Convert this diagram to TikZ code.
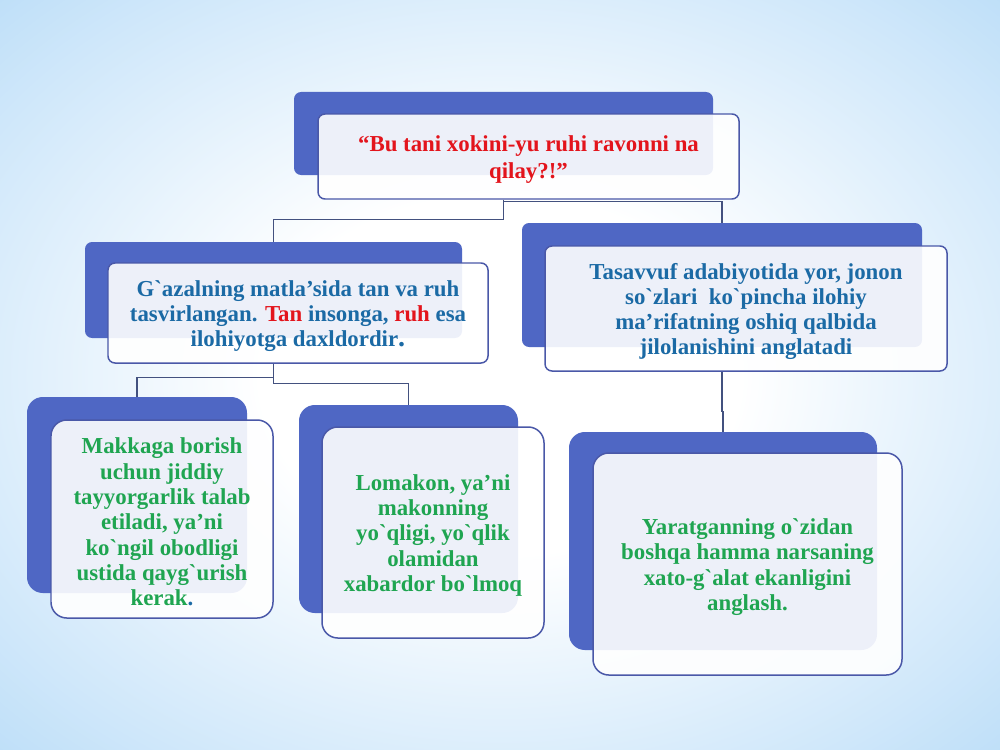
\documentclass[tikz,border=0pt]{standalone}
\usepackage{fontspec}
\newfontfamily\uzfont{Liberation Serif}
\usetikzlibrary{fit, positioning}
\definecolor{backblue}{HTML}{4F67C4}
\definecolor{edgeblue}{HTML}{4A58A8}
\definecolor{linkgray}{HTML}{43517F}
\definecolor{redtxt}{HTML}{E3141C}
\definecolor{bluetxt}{HTML}{1B6AA5}
\definecolor{greentxt}{HTML}{1FA551}
\definecolor{bgblue}{HTML}{8CC6F3}
\pgfdeclareradialshading{slidebg}{\pgfpoint{0bp}{0bp}}{color(0bp)=(white); color(12bp)=(white); color(30bp)=(bgblue!42); color(45bp)=(bgblue!80); color(62bp)=(bgblue); color(72bp)=(bgblue)}
\tikzset{%
  backbox/.style={draw=none, fill=backblue, rounded corners=4pt, inner sep=0pt},
  frontbox/.style={draw=edgeblue, line width=0.85pt, fill=white, fill opacity=0.9,
    rounded corners=4pt, inner sep=0pt},
  boxtext/.style={align=center, inner sep=0pt, yshift=-1.7pt, font=\uzfont\bfseries\fontsize{13}{14.4}\selectfont},
  big/.style={rounded corners=9pt},
  link/.style={draw=linkgray, line width=0.85pt}
}
\begin{document}
\begin{tikzpicture}[x=0.02cm, y=-0.02cm]

\useasboundingbox (0,0) rectangle (1000,750);
\shade[shading=slidebg] (0,0) rectangle (1000,750);

\node[backbox, fit={(294,92) (713,175)}] (b0) {};
\node[frontbox, fit={(318,114) (739,199)}] (f0) {};
\node[boxtext, text=redtxt, font=\uzfont\bfseries\fontsize{13}{15.3}\selectfont] (t0) at (f0) {“Bu tani xokini-yu ruhi ravonni na\\qilay?!”};

\node[backbox, fit={(85,242) (462,338)}] (b1) {};
\node[frontbox, fit={(108,263) (488,363)}] (f1) {};
\node[boxtext, text=bluetxt] (t1) at (f1) {G`azalning matla’sida tan va ruh\\tasvirlangan. \textcolor{redtxt}{Tan} insonga, \textcolor{redtxt}{ruh} esa\\ilohiyotga daxldordir{\fontsize{16}{14.4}\selectfont.}};

\node[backbox, fit={(522,223) (922,347)}] (b2) {};
\node[frontbox, fit={(545,246) (947,371)}] (f2) {};
\node[boxtext, text=bluetxt] (t2) at (f2) {Tasavvuf adabiyotida yor, jonon\\so`zlari\ \ ko`pincha ilohiy\\ma’rifatning oshiq qalbida\\jilolanishini anglatadi};

\node[backbox, big, fit={(27,397) (247,593)}] (b3) {};
\node[frontbox, big, fit={(51,420) (273,618)}] (f3) {};
\node[boxtext, text=greentxt] (t3) at (f3) {Makkaga borish\\uchun jiddiy\\tayyorgarlik talab\\etiladi, ya’ni\\ko`ngil obodligi\\ustida qayg`urish\\kerak{\color{bluetxt}.}};

\node[backbox, big, fit={(299,405) (518,613)}] (b4) {};
\node[frontbox, big, fit={(322,427) (544,638)}] (f4) {};
\node[boxtext, text=greentxt] (t4) at (f4) {Lomakon, ya’ni\\makonning\\yo`qligi, yo`qlik\\olamidan\\xabardor bo`lmoq};

\node[backbox, big, fit={(569,432) (877,650)}] (b5) {};
\node[frontbox, big, fit={(593,453) (902,675)}] (f5) {};
\node[boxtext, text=greentxt] (t5) at (f5) {Yaratganning o`zidan\\boshqa hamma narsaning\\xato-g`alat ekanligini\\anglash.};

\coordinate (j0) at (b0.south |- f0.south);
\coordinate (j1) at (b1.south |- f1.south);
\draw[link] (j0) -- ++(0,20) -| (b1.north);
\draw[link] ([yshift=-1pt]j0) -| (b2.north);
\draw[link] (j1) -- ++(0,14) -| (b3.north);
\draw[link] (j1) -- ++(0,20) -| (b4.north);
\draw[link] (b2.south |- f2.south) -- ++(0,40) -| (b5.north);

\end{tikzpicture}
\end{document}
